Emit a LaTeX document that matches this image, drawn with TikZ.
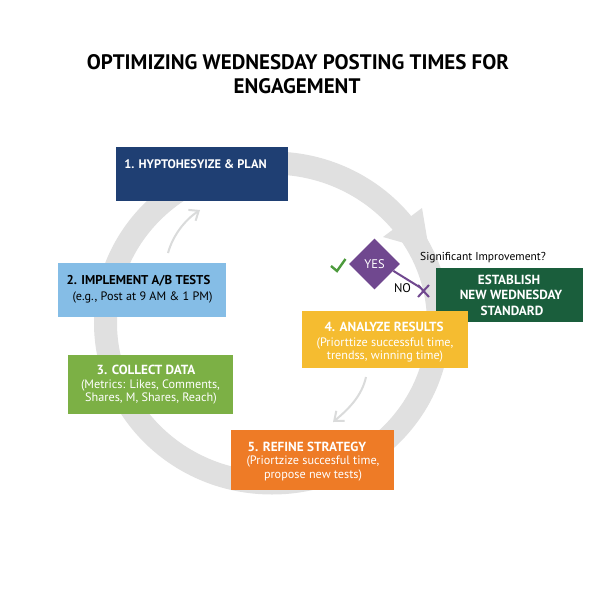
\documentclass[tikz,border=0pt]{standalone}
\usepackage{fontspec}
\setmainfont{PT Sans}
\usetikzlibrary{shapes.geometric,arrows.meta}
\definecolor{ringgray}{HTML}{E0E0E0}
\definecolor{navy}{HTML}{1F3F73}
\definecolor{skyb}{HTML}{85BDE6}
\definecolor{leaf}{HTML}{7CB045}
\definecolor{amber}{HTML}{F5BC30}
\definecolor{tang}{HTML}{EE7B26}
\definecolor{forest}{HTML}{1A5E3C}
\definecolor{plum}{HTML}{70488F}
\definecolor{tick}{HTML}{4C9A3C}
\definecolor{thin}{HTML}{DADBDB}
\tikzset{
  x=1pt,y=-1pt,
  boxn/.style={rectangle,inner sep=0pt,outer sep=0pt,minimum width=#1},
  head/.style={font=\fontsize{13.2}{15}\selectfont\bfseries,inner sep=0pt,text=white},
  subt/.style={font=\fontsize{12.2}{14}\selectfont,inner sep=0pt,text=white},
  ttl/.style={font=\fontsize{21}{24}\selectfont\bfseries,inner sep=0pt,text=black},
  bent/.style={draw=thin,line width=2pt,-{Straight Barb[length=8pt,width=13pt]}},
}
\begin{document}
\begin{tikzpicture}
\useasboundingbox (0,0) rectangle (600,600);
\fill[white] (0,0) rectangle (600,600);
% ring
\draw[ringgray,line width=23pt] (272,323) ellipse [x radius=166.5,y radius=160];
\fill[ringgray] (422,208) -- (383,237) -- (429,250) -- cycle;
% thin arrows
\coordinate (a1s) at (168,253); \coordinate (a1e) at (200,210);
\coordinate (a2s) at (366,377); \coordinate (a2e) at (333,422);
\draw[bent] (a1s) .. controls (173,235) and (185,220) .. (a1e);
\draw[bent] (a2s) .. controls (362,395) and (350,408) .. (a2e);
% boxes
\node[boxn=172pt,minimum height=54pt,fill=navy] (b1) at (202,174) {};
\node[boxn=168pt,minimum height=54pt,fill=skyb] (b2) at (142,290) {};
\node[boxn=165pt,minimum height=59pt,fill=leaf] (b3) at (150.5,384.5) {};
\node[boxn=147pt,minimum height=54pt,fill=forest] (b6) at (509.5,295) {};
\node[boxn=166pt,minimum height=57pt,fill=amber] (b4) at (385,339.5) {};
\node[boxn=163pt,minimum height=60pt,fill=tang] (b5) at (312.5,460) {};
% title
\node[ttl] (t1) at (298,62) {OPTIMIZING WEDNESDAY POSTING TIMES FOR};
\node[ttl] (t2) at (297,86) {ENGAGEMENT};
% labels
\node[head,font=\fontsize{12.4}{15}\selectfont\bfseries] (l1) at (195.5,164) {1. HYPTOHESYIZE \& PLAN};
\node[head,text=black,font=\fontsize{12.8}{15}\selectfont\bfseries] (l2) at (138.5,281) {2. IMPLEMENT A/B TESTS};
\node[subt,text=black] (l2b) at (142.5,297) {(e.g., Post at 9 AM \& 1 PM)};
\node[head] (l3) at (146,370) {3. COLLECT DATA};
\node[subt] (l3b) at (150.5,385) {(Metrics: Likes, Comments,};
\node[subt] (l3c) at (151,398) {Shares, M, Shares, Reach)};
\node[head] (l4) at (384,327) {4. ANALYZE RESULTS};
\node[subt] (l4b) at (385,343) {(Priorttize successful time,};
\node[subt] (l4c) at (385,356) {trendss, winning time)};
\node[head] (l5) at (307,447) {5. REFINE STRATEGY};
\node[subt] (l5b) at (313,461) {(Priortzize succesful time,};
\node[subt] (l5c) at (313,475) {propose new tests)};
\node[head] (l6a) at (509,280) {ESTABLISH};
\node[head] (l6b) at (511,295) {NEW WEDNESDAY};
\node[head] (l6c) at (512,311) {STANDARD};
% decision
\coordinate (x) at (421,288);
\node[diamond,aspect=1,fill=plum,inner sep=0pt,minimum width=51pt,minimum height=51pt,text=white,font=\fontsize{12.5}{15}\selectfont] (d) at (374.5,264) {YES};
\draw[plum,line width=2pt] (d.-20) -- (x);
\node[font=\fontsize{11.5}{13}\selectfont,inner sep=0pt] (q) at (483,258) {Significant Improvement?};
\node[font=\fontsize{12.5}{14}\selectfont,inner sep=0pt] (no) at (402.5,288) {NO};
\draw[plum,line width=2pt] (418,285) -- (429,297) (429,285) -- (418,297);
\coordinate (ca) at (331,266); \coordinate (cb) at (337,271); \coordinate (cc) at (345.5,259);
\draw[tick,line width=2.4pt] (ca) -- (cb) -- (cc);
\end{tikzpicture}
\end{document}
